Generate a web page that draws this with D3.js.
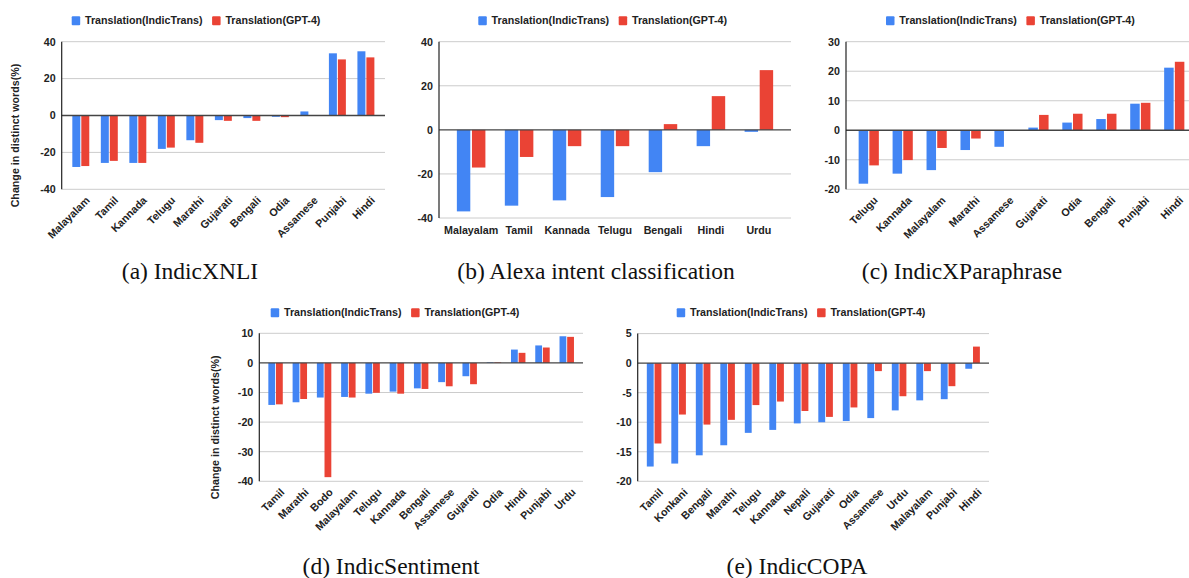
<!DOCTYPE html>
<html>
<head>
<meta charset="utf-8">
<script src="https://cdn.jsdelivr.net/npm/d3@7"></script>
<style>
  body { margin: 0; background: #fff; }
  svg { display: block; }
  text { font-family: "Liberation Sans", Arial, sans-serif; }
</style>
</head>
<body>
<svg id="chart" width="1189" height="578"></svg>
<script>
// ---- data ----
const seriesNames = ["Translation(IndicTrans)", "Translation(GPT-4)"];
const seriesColors = ["#4285f4", "#ea4335"];

const xnliLangs = ["Malayalam", "Tamil", "Kannada", "Telugu", "Marathi", "Gujarati", "Bengali", "Odia", "Assamese", "Punjabi", "Hindi"];
const xnliIndic = [-27.9, -25.7, -25.7, -18.1, -13.4, -2.5, -1.4, -0.7, 2.2, 33.7, 34.8];
const xnliGpt = [-27.4, -24.6, -25.7, -17.4, -14.8, -2.9, -2.9, -0.9, 0, 30.4, 31.5];
const xnliTicks = [-40, -20, 0, 20, 40];

const alexaLangs = ["Malayalam", "Tamil", "Kannada", "Telugu", "Bengali", "Hindi", "Urdu"];
const alexaIndic = [-37, -34.4, -32, -30.5, -19.2, -7.4, -0.9];
const alexaGpt = [-17.1, -12.3, -7.4, -7.4, 2.6, 15.3, 27.1];
const alexaTicks = [-40, -20, 0, 20, 40];

const paraLangs = ["Telugu", "Kannada", "Malayalam", "Marathi", "Assamese", "Gujarati", "Odia", "Bengali", "Punjabi", "Hindi"];
const paraIndic = [-18.1, -14.7, -13.5, -6.7, -5.6, 0.9, 2.6, 3.8, 9.0, 21.2];
const paraGpt = [-11.9, -10.1, -6.0, -2.8, -0.2, 5.2, 5.6, 5.6, 9.3, 23.2];
const paraTicks = [-20, -10, 0, 10, 20, 30];

const sentLangs = ["Tamil", "Marathi", "Bodo", "Malayalam", "Telugu", "Kannada", "Bengali", "Assamese", "Gujarati", "Odia", "Hindi", "Punjabi", "Urdu"];
const sentIndic = [-14.2, -13.3, -11.7, -11.5, -10.4, -9.7, -8.6, -6.5, -4.5, 0.2, 4.5, 5.9, 9.0];
const sentGpt = [-14.0, -12.2, -38.6, -11.7, -10.1, -10.4, -8.8, -7.9, -7.2, 0.2, 3.4, 5.2, 8.8];
const sentTicks = [-40, -30, -20, -10, 0, 10];

const copaLangs = ["Tamil", "Konkani", "Bengali", "Marathi", "Telugu", "Kannada", "Nepali", "Gujarati", "Odia", "Assamese", "Urdu", "Malayalam", "Punjabi", "Hindi"];
const copaIndic = [-17.5, -17.0, -15.6, -13.9, -11.8, -11.3, -10.2, -10.0, -9.8, -9.3, -8.0, -6.3, -6.1, -0.95];
const copaGpt = [-13.6, -8.7, -10.4, -9.6, -7.1, -6.5, -8.1, -9.1, -7.5, -1.35, -5.6, -1.35, -3.9, 2.8];
const copaTicks = [-20, -15, -10, -5, 0, 5];

const captions = ["(a) IndicXNLI", "(b) Alexa intent classification", "(c) IndicXParaphrase", "(d) IndicSentiment", "(e) IndicCOPA"];
const yTitle = "Change in distinct words(%)";

// ---- layout of each panel ----
const panels = [
  { langs: xnliLangs, s1: xnliIndic, s2: xnliGpt, ticks: xnliTicks, x0: 61.7, x1: 385, yTop: 41.7, yBot: 189.3,
    legX: 71.7, legY: 20.7, rotate: true, title: true, titleX: 15, caption: captions[0], capX: 190, capY: 279 },
  { langs: alexaLangs, s1: alexaIndic, s2: alexaGpt, ticks: alexaTicks, x0: 439, x1: 791, yTop: 41.7, yBot: 218,
    legX: 478.3, legY: 20.7, rotate: false, title: false, caption: captions[1], capX: 596, capY: 279 },
  { langs: paraLangs, s1: paraIndic, s2: paraGpt, ticks: paraTicks, x0: 846, x1: 1197, yTop: 41.7, yBot: 189.3,
    legX: 886, legY: 20.7, rotate: true, title: false, caption: captions[2], capX: 962, capY: 279 },
  { langs: sentLangs, s1: sentIndic, s2: sentGpt, ticks: sentTicks, x0: 259.3, x1: 583, yTop: 333.3, yBot: 481.3,
    legX: 270.7, legY: 312.7, rotate: true, title: true, titleX: 215, caption: captions[3], capX: 391, capY: 574 },
  { langs: copaLangs, s1: copaIndic, s2: copaGpt, ticks: copaTicks, x0: 637.7, x1: 989, yTop: 333.6, yBot: 481.3,
    legX: 676.7, legY: 312.7, rotate: true, title: false, caption: captions[4], capX: 797, capY: 574 }
];

const svg = d3.select("#chart");
const FS = 10.7;

function drawPanel(p) {
  const g = svg.append("g");
  const y = d3.scaleLinear()
    .domain([d3.min(p.ticks), d3.max(p.ticks)])
    .range([p.yBot, p.yTop]);
  const x = d3.scalePoint()
    .domain(p.langs)
    .range([p.x0, p.x1])
    .padding(0.67);
  const step = x.step();
  const bw = step * 0.28, gap = step * 0.035;

  // gridlines
  g.append("g").selectAll("line")
    .data(p.ticks.filter(t => t !== 0))
    .join("line")
    .attr("x1", p.x0).attr("x2", p.x1)
    .attr("y1", d => y(d)).attr("y2", d => y(d))
    .attr("stroke", "#cccccc").attr("stroke-width", 1);

  // tick labels
  g.append("g").selectAll("text")
    .data(p.ticks)
    .join("text")
    .attr("x", p.x0 - 6)
    .attr("y", d => y(d))
    .attr("dy", "0.36em")
    .attr("text-anchor", "end")
    .attr("font-size", FS)
    .attr("font-weight", "bold")
    .attr("fill", "#222")
    .text(d => d);

  // bars
  const rows = p.langs.map((l, i) => ({ lang: l, v: [p.s1[i], p.s2[i]] }));
  const grp = g.append("g").selectAll("g")
    .data(rows)
    .join("g");
  grp.selectAll("rect")
    .data(d => d.v.map((v, k) => ({ lang: d.lang, v, k })))
    .join("rect")
    .attr("x", d => d.k === 0 ? x(d.lang) - gap / 2 - bw : x(d.lang) + gap / 2)
    .attr("width", bw)
    .attr("y", d => y(Math.max(0, d.v)))
    .attr("height", d => Math.abs(y(d.v) - y(0)))
    .attr("fill", d => seriesColors[d.k]);

  // zero line and left axis
  g.append("line")
    .attr("x1", p.x0).attr("x2", p.x1)
    .attr("y1", y(0)).attr("y2", y(0))
    .attr("stroke", "#444").attr("stroke-width", 1.4);
  g.append("line")
    .attr("x1", p.x0).attr("x2", p.x0)
    .attr("y1", p.yTop).attr("y2", p.yBot)
    .attr("stroke", "#222").attr("stroke-width", 1.2);

  // category labels
  const cats = g.append("g").selectAll("text")
    .data(p.langs)
    .join("text")
    .attr("font-size", FS)
    .attr("font-weight", "bold")
    .attr("fill", "#222")
    .text(d => d);
  if (p.rotate) {
    cats.attr("text-anchor", "end")
      .attr("dy", "0.35em")
      .attr("transform", d => `translate(${x(d) + 7},${p.yBot + 9}) rotate(-45)`);
  } else {
    cats.attr("text-anchor", "middle")
      .attr("x", d => x(d))
      .attr("y", p.yBot + 16);
  }

  // y title
  if (p.title) {
    g.append("text")
      .attr("transform", `translate(${p.titleX},${(p.yTop + p.yBot) / 2 + 20}) rotate(-90)`)
      .attr("text-anchor", "middle")
      .attr("dy", "0.35em")
      .attr("font-size", FS)
      .attr("font-weight", "bold")
      .attr("fill", "#222")
      .text(yTitle);
  }

  // legend
  const leg = g.append("g");
  let lx = p.legX;
  seriesNames.forEach((name, k) => {
    leg.append("rect")
      .attr("x", lx).attr("y", p.legY - 4.5)
      .attr("width", 8.5).attr("height", 9)
      .attr("rx", 1)
      .attr("fill", seriesColors[k]);
    const t = leg.append("text")
      .attr("x", lx + 13.3)
      .attr("y", p.legY)
      .attr("dy", "0.35em")
      .attr("font-size", FS)
      .attr("font-weight", "bold")
      .attr("fill", "#222")
      .text(name);
    lx = lx + 13.3 + t.node().getComputedTextLength() + 9.5;
  });

  // caption
  svg.append("text")
    .attr("x", p.capX)
    .attr("y", p.capY)
    .attr("text-anchor", "middle")
    .style("font-family", '"Liberation Serif", "Times New Roman", serif')
    .attr("font-size", 23.5)
    .attr("fill", "#111")
    .text(p.caption);
}

panels.forEach(drawPanel);
</script>
</body>
</html>
